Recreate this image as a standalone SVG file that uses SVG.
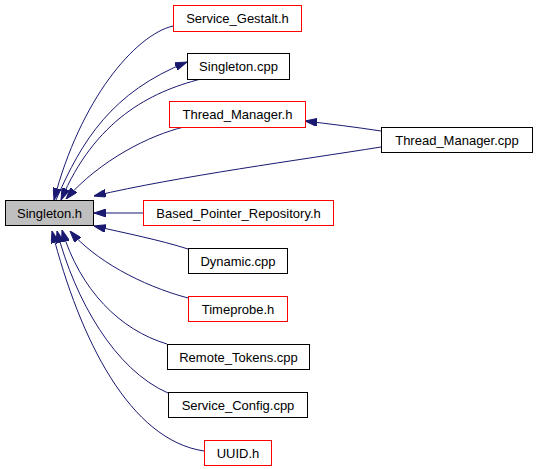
<svg xmlns="http://www.w3.org/2000/svg" width="536" height="469" viewBox="0 0 536 469">
<style>
.node rect{fill:#ffffff;stroke:#000000;stroke-width:1}
.node.red rect{stroke:#ff0000}
.node.cur rect{fill:#bfbfbf}
.node text{font-family:"Liberation Sans",Arial,sans-serif;font-size:13px;fill:#000000;text-anchor:middle}
.edges path{fill:none;stroke:#191970;stroke-width:1;marker-end:url(#arr)}
.edges path.plain{marker-end:none}
</style>
<defs>
<marker id="arr" viewBox="0 0 12 8" refX="12" refY="4" markerWidth="12" markerHeight="8" markerUnits="userSpaceOnUse" orient="auto">
<path d="M0,0 L12,4 L0,8 Z" fill="#191970" stroke="#191970" stroke-width="1"/>
</marker>
</defs>
<rect width="536" height="469" fill="#ffffff"/>
<g class="edges" id="edges">
<path d="M173,26 C135,35 80,100 54,200"/>
<path d="M201,79 C150,92 95,120 61,200"/>
<path d="M56,200 C82,140 112,92 187,62"/>
<path d="M184,127 C150,135 100,160 66,199"/>
<path d="M381,147 C300,160 180,176 94,196"/>
<path d="M381,131 C355,127 330,124 305,121"/>
<path d="M143,213 L94,213"/>
<path d="M188,249 C160,240 125,233 94,226"/>
<path d="M188,298 C140,285 95,260 70,231"/>
<path d="M167,344 C120,330 80,290 62,230"/>
<path d="M168,393 C115,370 75,300 57,231"/>
<path d="M204,451 C130,440 80,340 52,231"/>
</g>
<g class="node red" id="n_service_gestalt_h"><rect x="173.5" y="5.5" width="128" height="26"/><text x="237.5" y="23">Service_Gestalt.h</text></g>
<g class="node" id="n_singleton_cpp"><rect x="187.5" y="53.5" width="102" height="26"/><text x="238.5" y="71">Singleton.cpp</text></g>
<g class="node red" id="n_thread_manager_h"><rect x="169.5" y="101.5" width="136" height="26"/><text x="237.5" y="119">Thread_Manager.h</text></g>
<g class="node" id="n_thread_manager_cpp"><rect x="381.5" y="127.5" width="151" height="25"/><text x="457" y="144.5">Thread_Manager.cpp</text></g>
<g class="node cur" id="n_singleton_h"><rect x="5.5" y="200.5" width="88" height="25"/><text x="49.5" y="217.5">Singleton.h</text></g>
<g class="node red" id="n_based_pointer_repository_h"><rect x="143.5" y="200.5" width="190" height="25"/><text x="238.5" y="217.5">Based_Pointer_Repository.h</text></g>
<g class="node" id="n_dynamic_cpp"><rect x="188.5" y="248.5" width="99" height="25"/><text x="238" y="265.5">Dynamic.cpp</text></g>
<g class="node red" id="n_timeprobe_h"><rect x="188.5" y="296.5" width="99" height="25"/><text x="238" y="313.5">Timeprobe.h</text></g>
<g class="node" id="n_remote_tokens_cpp"><rect x="167.5" y="344.5" width="142" height="25"/><text x="238.5" y="361.5">Remote_Tokens.cpp</text></g>
<g class="node" id="n_service_config_cpp"><rect x="168.5" y="392.5" width="139" height="25"/><text x="238" y="409.5">Service_Config.cpp</text></g>
<g class="node red" id="n_uuid_h"><rect x="204.5" y="440.5" width="67" height="25"/><text x="238" y="457.5">UUID.h</text></g>
</svg>
